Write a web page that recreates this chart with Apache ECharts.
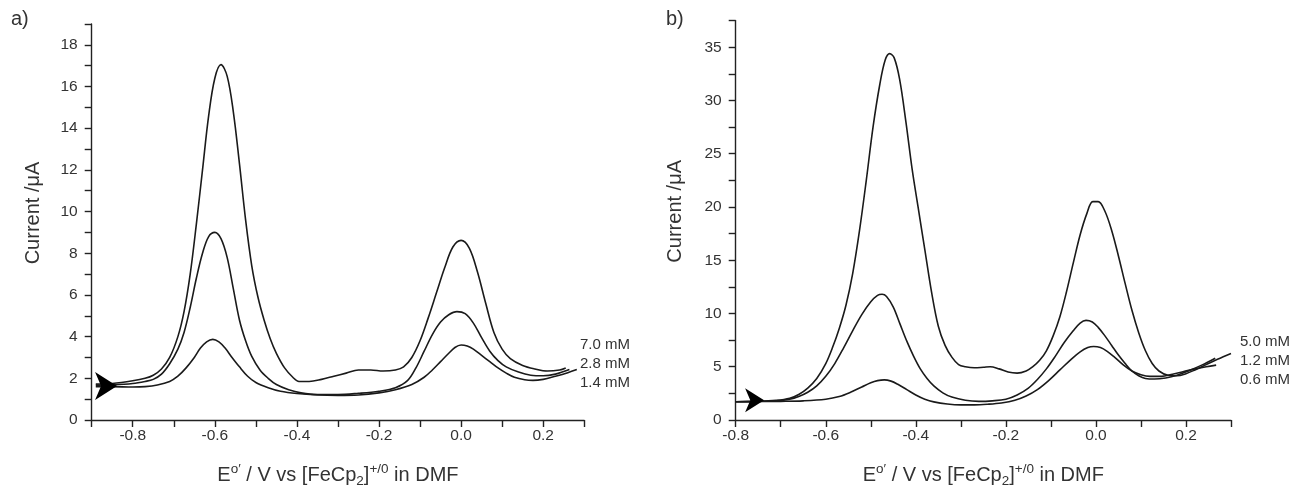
<!DOCTYPE html>
<html>
<head>
<meta charset="utf-8">
<script src="https://cdn.jsdelivr.net/npm/echarts@6/dist/echarts.min.js"></script>
<style>
html,body{margin:0;padding:0;background:#fff;}
#chart{width:1301px;height:493px;}
</style>
</head>
<body>
<div id="chart"></div>
<script>
// ---------- DATA ----------
// Panel a) potential (V) / current (µA)
const curveA_7_0 = [[-0.89,1.72],[-0.85,1.75],[-0.8,1.88],[-0.77,2.0],[-0.75,2.15],[-0.73,2.45],[-0.71,3.0],[-0.69,4.0],[-0.675,5.2],[-0.66,7.0],[-0.645,9.4],[-0.63,12.0],[-0.615,14.6],[-0.6,16.4],[-0.585,17.05],[-0.57,16.5],[-0.555,14.8],[-0.54,12.3],[-0.525,9.6],[-0.51,7.4],[-0.495,5.9],[-0.48,4.8],[-0.465,3.9],[-0.45,3.2],[-0.43,2.5],[-0.41,2.05],[-0.395,1.85],[-0.37,1.85],[-0.34,1.95],[-0.31,2.1],[-0.28,2.25],[-0.25,2.4],[-0.22,2.4],[-0.19,2.35],[-0.16,2.4],[-0.14,2.55],[-0.12,3.0],[-0.1,3.8],[-0.08,4.9],[-0.06,6.1],[-0.04,7.3],[-0.02,8.3],[0.0,8.62],[0.02,8.25],[0.04,7.1],[0.06,5.6],[0.08,4.2],[0.1,3.4],[0.12,2.95],[0.15,2.62],[0.18,2.45],[0.21,2.35],[0.24,2.4],[0.255,2.5]];
const curveA_2_8 = [[-0.89,1.66],[-0.85,1.68],[-0.8,1.75],[-0.77,1.85],[-0.75,1.95],[-0.73,2.2],[-0.71,2.7],[-0.69,3.4],[-0.675,4.2],[-0.66,5.4],[-0.645,6.8],[-0.63,8.0],[-0.615,8.8],[-0.6,9.0],[-0.585,8.7],[-0.57,7.8],[-0.555,6.3],[-0.54,4.8],[-0.525,3.8],[-0.51,3.05],[-0.49,2.4],[-0.47,2.0],[-0.45,1.7],[-0.42,1.45],[-0.39,1.3],[-0.35,1.22],[-0.3,1.22],[-0.25,1.28],[-0.2,1.38],[-0.16,1.55],[-0.13,1.9],[-0.11,2.5],[-0.09,3.3],[-0.07,4.1],[-0.05,4.7],[-0.03,5.05],[-0.01,5.2],[0.01,5.1],[0.03,4.65],[0.05,3.95],[0.07,3.3],[0.09,2.85],[0.11,2.55],[0.14,2.3],[0.17,2.15],[0.2,2.12],[0.23,2.2],[0.264,2.42]];
const curveA_1_4 = [[-0.89,1.6],[-0.85,1.6],[-0.8,1.58],[-0.77,1.6],[-0.74,1.68],[-0.71,1.85],[-0.69,2.1],[-0.67,2.5],[-0.65,3.0],[-0.635,3.45],[-0.62,3.75],[-0.605,3.87],[-0.59,3.75],[-0.575,3.45],[-0.56,3.05],[-0.54,2.55],[-0.52,2.1],[-0.5,1.8],[-0.47,1.55],[-0.44,1.38],[-0.4,1.27],[-0.35,1.2],[-0.3,1.18],[-0.25,1.2],[-0.2,1.3],[-0.16,1.45],[-0.12,1.7],[-0.09,2.05],[-0.07,2.4],[-0.05,2.8],[-0.03,3.2],[-0.015,3.48],[0.0,3.6],[0.015,3.55],[0.03,3.4],[0.05,3.1],[0.07,2.8],[0.09,2.5],[0.11,2.25],[0.13,2.05],[0.155,1.93],[0.175,1.9],[0.2,1.95],[0.23,2.1],[0.26,2.27],[0.282,2.42]];
const arrowA = [-0.865, 1.63];
const labelsA = ['7.0 mM', '2.8 mM', '1.4 mM'];

// Panel b)
const curveB_5_0 = [[-0.8,1.72],[-0.75,1.75],[-0.71,1.85],[-0.68,2.05],[-0.66,2.4],[-0.64,3.0],[-0.62,3.9],[-0.6,5.3],[-0.585,6.8],[-0.57,8.6],[-0.555,10.8],[-0.54,13.8],[-0.525,17.8],[-0.51,22.5],[-0.495,27.5],[-0.48,31.5],[-0.468,33.8],[-0.458,34.4],[-0.448,34.0],[-0.436,32.0],[-0.422,28.0],[-0.408,23.5],[-0.395,20.0],[-0.38,16.0],[-0.365,12.0],[-0.35,8.8],[-0.335,7.0],[-0.32,5.9],[-0.305,5.2],[-0.29,5.0],[-0.27,4.9],[-0.25,4.95],[-0.235,5.0],[-0.215,4.8],[-0.195,4.5],[-0.175,4.4],[-0.155,4.6],[-0.14,5.0],[-0.125,5.6],[-0.11,6.5],[-0.095,7.9],[-0.08,9.7],[-0.065,12.1],[-0.05,14.8],[-0.035,17.4],[-0.02,19.4],[-0.007,20.5],[0.005,20.5],[0.02,19.6],[0.035,17.8],[0.05,15.4],[0.065,12.8],[0.08,10.3],[0.095,8.2],[0.11,6.5],[0.125,5.3],[0.14,4.6],[0.16,4.2],[0.18,4.15],[0.2,4.35],[0.22,4.7],[0.245,5.2],[0.27,5.7],[0.3,6.25]];
const curveB_1_2 = [[-0.8,1.72],[-0.75,1.75],[-0.71,1.8],[-0.68,1.95],[-0.66,2.2],[-0.64,2.6],[-0.62,3.2],[-0.6,4.1],[-0.58,5.3],[-0.56,6.8],[-0.54,8.4],[-0.52,9.9],[-0.5,11.1],[-0.485,11.7],[-0.475,11.8],[-0.465,11.6],[-0.45,10.6],[-0.435,9.0],[-0.42,7.4],[-0.405,6.0],[-0.39,4.8],[-0.375,3.9],[-0.36,3.2],[-0.34,2.55],[-0.32,2.15],[-0.29,1.85],[-0.26,1.75],[-0.23,1.8],[-0.2,1.95],[-0.175,2.35],[-0.15,3.0],[-0.13,3.8],[-0.11,4.8],[-0.09,6.0],[-0.07,7.3],[-0.05,8.4],[-0.035,9.1],[-0.022,9.35],[-0.008,9.2],[0.005,8.7],[0.02,7.9],[0.035,7.0],[0.05,6.1],[0.065,5.3],[0.08,4.6],[0.095,4.15],[0.11,3.9],[0.13,3.85],[0.155,3.95],[0.18,4.2],[0.205,4.6],[0.235,5.15],[0.265,5.8]];
const curveB_0_6 = [[-0.8,1.72],[-0.75,1.73],[-0.7,1.75],[-0.65,1.8],[-0.6,1.95],[-0.57,2.2],[-0.545,2.6],[-0.52,3.1],[-0.5,3.5],[-0.485,3.7],[-0.47,3.77],[-0.455,3.65],[-0.44,3.35],[-0.42,2.85],[-0.4,2.35],[-0.38,1.95],[-0.36,1.7],[-0.33,1.5],[-0.3,1.42],[-0.27,1.42],[-0.24,1.48],[-0.21,1.6],[-0.18,1.85],[-0.155,2.25],[-0.13,2.85],[-0.105,3.7],[-0.08,4.7],[-0.055,5.7],[-0.035,6.4],[-0.018,6.8],[-0.005,6.9],[0.01,6.8],[0.025,6.45],[0.04,5.95],[0.06,5.2],[0.08,4.6],[0.1,4.25],[0.12,4.1],[0.145,4.1],[0.17,4.3],[0.195,4.55],[0.22,4.8],[0.245,5.0],[0.267,5.15]];
const arrowB = [-0.758, 1.85];
const labelsB = ['5.0 mM', '1.2 mM', '0.6 mM'];

// Tick labels
const xTickLabelsA = ['-0.8','-0.6','-0.4','-0.2','0.0','0.2'];
const xTickLabelsB = ['-0.8','-0.6','-0.4','-0.2','0.0','0.2'];
const yTickLabelsA = ['0','2','4','6','8','10','12','14','16','18'];
const yTickLabelsB = ['0','5','10','15','20','25','30','35'];

// ---------- CHART ----------
const FONT = 'Liberation Sans, Arial, sans-serif';
const TXT = '#333';
const LINE = '#1a1a1a';

const chart = echarts.init(document.getElementById('chart'), null, {renderer: 'canvas'});

function xFmt(list) {
  return function (v) {
    const s = (Math.round(v * 10) / 10).toFixed(1);
    return list.indexOf(s) >= 0 ? s : '';
  };
}
function yFmt(list) {
  return function (v) {
    const s = String(Math.round(v * 10) / 10);
    return list.indexOf(s) >= 0 ? s : '';
  };
}

const xName = '{n|E}{sup|o\u2032}{n| / V vs [FeCp}{sub|2}{n|]}{sup|+/0}{n| in DMF}';
const xRich = {
  n: {fontSize: 20, fontFamily: FONT, color: TXT, lineHeight: 26, verticalAlign: 'middle'},
  sup: {fontSize: 13.5, fontFamily: FONT, color: TXT, lineHeight: 14, verticalAlign: 'top'},
  sub: {fontSize: 13.5, fontFamily: FONT, color: TXT, lineHeight: 14, verticalAlign: 'bottom'}
};

function xAxis(gridIndex, min, max, labels) {
  return {
    type: 'value', gridIndex, min, max, interval: 0.1,
    splitLine: {show: false},
    axisLine: {show: true, onZero: false, lineStyle: {color: '#222', width: 1.4}},
    axisTick: {show: true, inside: false, length: 7, lineStyle: {color: '#222', width: 1.4}},
    axisLabel: {show: true, formatter: xFmt(labels), fontSize: 15.5, fontFamily: FONT, color: TXT, margin: 8, showMinLabel: true, showMaxLabel: true, hideOverlap: false},
    name: xName, nameLocation: 'middle', nameGap: 42,
    nameTextStyle: {rich: xRich}
  };
}
function yAxis(gridIndex, min, max, interval, labels, gap) {
  return {
    type: 'value', gridIndex, min, max, interval,
    splitLine: {show: false},
    axisLine: {show: true, onZero: false, lineStyle: {color: '#222', width: 1.4}},
    axisTick: {show: true, inside: false, length: 7, lineStyle: {color: '#222', width: 1.4}},
    axisLabel: {show: true, formatter: yFmt(labels), fontSize: 15.5, fontFamily: FONT, color: TXT, margin: 14, showMinLabel: true, showMaxLabel: true, hideOverlap: false},
    name: 'Current /\u03bcA', nameLocation: 'middle', nameGap: gap,
    nameTextStyle: {fontSize: 20, fontFamily: FONT, color: TXT, padding: [0, 0, 0, 18]}
  };
}
function line(data, xi) {
  return {
    type: 'line', xAxisIndex: xi, yAxisIndex: xi, data,
    showSymbol: false, symbol: 'none', smooth: 0.35,
    lineStyle: {color: LINE, width: 1.6}, animation: false, z: 2
  };
}
const ARROW_PATH = 'path://M0,0 L22,14 L0,28 L6,14 Z';
function arrow(pt, xi, size) {
  return {
    type: 'scatter', xAxisIndex: xi, yAxisIndex: xi, data: [pt],
    symbol: ARROW_PATH, symbolSize: size, symbolKeepAspect: false,
    itemStyle: {color: '#000', opacity: 1}, animation: false, z: 5, silent: true
  };
}

const labelStyle = {fontSize: 15, fontFamily: FONT, fill: TXT, verticalAlign: 'middle'};

chart.setOption({
  backgroundColor: '#fff',
  animation: false,
  grid: [
    {left: 91.7, top: 24, width: 492.5, height: 397.7},
    {left: 735.7, top: 20.6, width: 495.3, height: 400.4}
  ],
  xAxis: [xAxis(0, -0.9, 0.3, xTickLabelsA), xAxis(1, -0.8, 0.3, xTickLabelsB)],
  yAxis: [yAxis(0, 0, 19, 1, yTickLabelsA, 48), yAxis(1, 0, 37.5, 2.5, yTickLabelsB, 50)],
  series: [
    line(curveA_7_0, 0), line(curveA_2_8, 0), line(curveA_1_4, 0),
    line(curveB_5_0, 1), line(curveB_1_2, 1), line(curveB_0_6, 1),
    arrow(arrowA, 0, [22, 28]), arrow(arrowB, 1, [19, 24])
  ],
  graphic: [
    {type: 'text', x: 11, y: 9, style: {text: 'a)', fontSize: 20, fontFamily: FONT, fill: TXT}},
    {type: 'text', x: 666, y: 9, style: {text: 'b)', fontSize: 20, fontFamily: FONT, fill: TXT}},
    {type: 'text', x: 580, y: 345, style: Object.assign({text: labelsA[0]}, labelStyle)},
    {type: 'text', x: 580, y: 364, style: Object.assign({text: labelsA[1]}, labelStyle)},
    {type: 'text', x: 580, y: 383, style: Object.assign({text: labelsA[2]}, labelStyle)},
    {type: 'text', x: 1240, y: 342, style: Object.assign({text: labelsB[0]}, labelStyle)},
    {type: 'text', x: 1240, y: 361, style: Object.assign({text: labelsB[1]}, labelStyle)},
    {type: 'text', x: 1240, y: 380, style: Object.assign({text: labelsB[2]}, labelStyle)}
  ]
});
</script>
</body>
</html>
